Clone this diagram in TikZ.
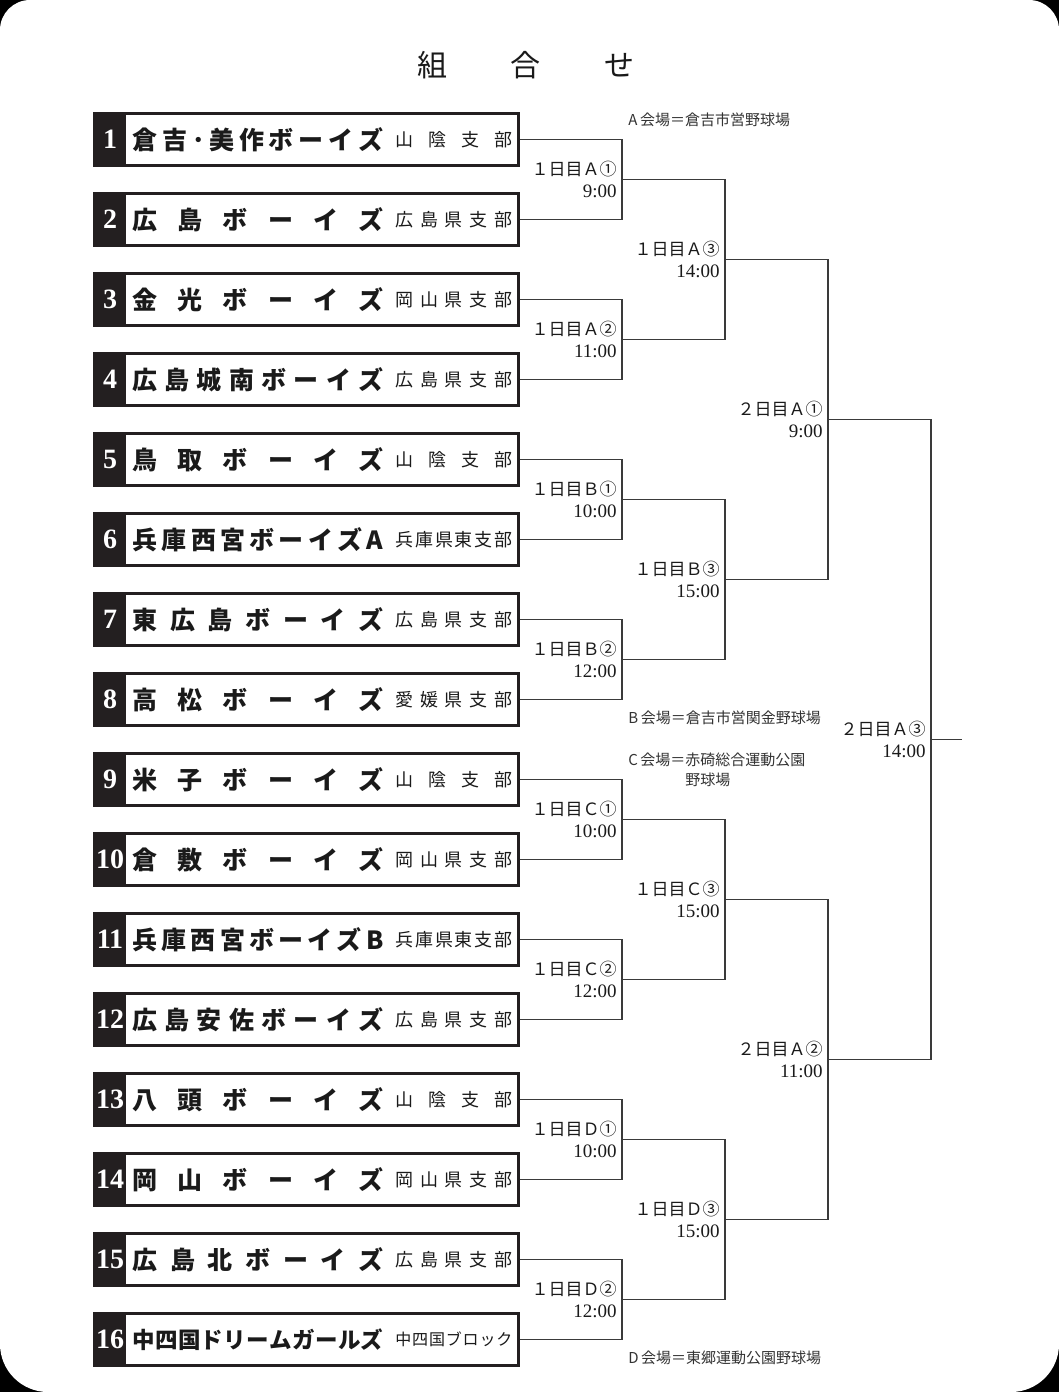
\documentclass[tikz,border=0pt]{standalone}
\usepackage{fontspec}
\setmainfont{Liberation Serif}
\newfontfamily\cjk{Noto Sans CJK JP}
\definecolor{boxblack}{HTML}{231F20}
\definecolor{txt}{HTML}{1A1A1A}
\definecolor{linegray}{HTML}{3A3A3A}
\definecolor{venuegray}{HTML}{333333}
\def\spreadloop#1#2{#1\ifx\relax#2\else\hfill\expandafter\spreadloop\expandafter#2\fi}
\newcommand\spreadtext[2]{\makebox[#1][s]{\expandafter\spreadloop#2\relax}}
\newcommand\lbtwo[2]{{\cjk\fontsize{8.5pt}{11pt}\selectfont #1}\\#2}
\tikzset{
  teambox/.style={fill=boxblack, minimum width=213.5pt, minimum height=27.5pt, inner sep=0pt, outer sep=0pt},
  numtext/.style={text=white, font=\fontsize{14pt}{14pt}\selectfont\bfseries, inner sep=0pt},
  nametext/.style={anchor=west, inner sep=0pt, text=txt},
  brtext/.style={anchor=west, inner sep=0pt, text=txt},
  link/.style={draw=linegray, line width=0.65pt},
  lbl/.style={anchor=east, align=right, inner sep=0pt, text=txt, xshift=-2.5pt, font=\fontsize{9.5pt}{11pt}\selectfont},
  venue/.style={anchor=west, align=left, inner sep=0pt, text=venuegray, font=\cjk\fontsize{7.5pt}{10pt}\selectfont},
  titletext/.style={inner sep=0pt, text=txt, font=\cjk\fontsize{15pt}{15pt}\selectfont},
}
\begin{document}
\begin{tikzpicture}[x=0.5pt,y=-0.5pt]
\useasboundingbox (0,0) rectangle (1059,1392);
\fill[black] (0,0) rectangle (1059,1392);
\fill[white, rounded corners=15pt] (0,0) rectangle (1059,800);
\fill[white, rounded corners=24pt] (0,600) rectangle (1059,1392);

\node[titletext] (title) at (526,65) {\spreadtext{109pt}{組合せ}};

\foreach \i/\nm/\br in {1/倉吉･美作ボーイズ/山陰支部, 2/広島ボーイズ/広島県支部, 3/金光ボーイズ/岡山県支部, 4/広島城南ボーイズ/広島県支部, 5/鳥取ボーイズ/山陰支部, 6/兵庫西宮ボーイズA/兵庫県東支部, 7/東広島ボーイズ/広島県支部, 8/高松ボーイズ/愛媛県支部, 9/米子ボーイズ/山陰支部, 10/倉敷ボーイズ/岡山県支部, 11/兵庫西宮ボーイズB/兵庫県東支部, 12/広島安佐ボーイズ/広島県支部, 13/八頭ボーイズ/山陰支部, 14/岡山ボーイズ/岡山県支部, 15/広島北ボーイズ/広島県支部, 16/中四国ドリームガールズ/中四国ブロック}{
  \pgfmathsetmacro\yy{139.5+80*(\i-1)}
  \node[teambox] (t\i) at (306.5,\yy) {};
  \fill[white] ([xshift=16.5pt,yshift=-1.5pt]t\i.north west) rectangle ([xshift=-1.75pt,yshift=1.75pt]t\i.south east);
  \node[numtext] (n\i) at (110,\yy) {\i};
  \node[nametext] (nm\i) at (132,\yy) {\cjk\bfseries\ifnum\i=16 \fontsize{11.25pt}{12pt}\selectfont\else\fontsize{12.5pt}{14pt}\selectfont\fi\spreadtext{125.5pt}{\nm}};
  \node[brtext] (b\i) at (395,\yy) {\cjk\ifnum\i=16 \fontsize{8pt}{9pt}\selectfont\else\fontsize{9pt}{10pt}\selectfont\fi\spreadtext{58.5pt}{\br}};
}

% round 1
\foreach \k in {1,...,8}{
  \pgfmathtruncatemacro\a{2*\k-1}
  \pgfmathtruncatemacro\b{2*\k}
  \pgfmathsetmacro\yy{179.5+160*(\k-1)}
  \coordinate (r1\k) at (622,\yy);
  \draw[link] (t\a.east) -| (r1\k) |- (t\b.east);
}
% round 2
\foreach \k in {1,...,4}{
  \pgfmathtruncatemacro\a{2*\k-1}
  \pgfmathtruncatemacro\b{2*\k}
  \pgfmathsetmacro\yy{259.5+320*(\k-1)}
  \coordinate (r2\k) at (725,\yy);
  \draw[link] (r1\a) -| (r2\k) |- (r1\b);
}
% round 3
\foreach \k in {1,2}{
  \pgfmathtruncatemacro\a{2*\k-1}
  \pgfmathtruncatemacro\b{2*\k}
  \pgfmathsetmacro\yy{419.5+640*(\k-1)}
  \coordinate (r3\k) at (828,\yy);
  \draw[link] (r2\a) -| (r3\k) |- (r2\b);
}
% final
\coordinate (r4) at (931,739.5);
\coordinate (champ) at (962,739.5);
\draw[link] (r31) -| (r4) |- (r32);
\draw[link] (r4) -- (champ);

% match labels
\node[lbl] (L11) at (r11) {\lbtwo{１日目Ａ①}{9:00}};
\node[lbl] (L12) at (r12) {\lbtwo{１日目Ａ②}{11:00}};
\node[lbl] (L13) at (r13) {\lbtwo{１日目Ｂ①}{10:00}};
\node[lbl] (L14) at (r14) {\lbtwo{１日目Ｂ②}{12:00}};
\node[lbl] (L15) at (r15) {\lbtwo{１日目Ｃ①}{10:00}};
\node[lbl] (L16) at (r16) {\lbtwo{１日目Ｃ②}{12:00}};
\node[lbl] (L17) at (r17) {\lbtwo{１日目Ｄ①}{10:00}};
\node[lbl] (L18) at (r18) {\lbtwo{１日目Ｄ②}{12:00}};
\node[lbl] (L21) at (r21) {\lbtwo{１日目Ａ③}{14:00}};
\node[lbl] (L22) at (r22) {\lbtwo{１日目Ｂ③}{15:00}};
\node[lbl] (L23) at (r23) {\lbtwo{１日目Ｃ③}{15:00}};
\node[lbl] (L24) at (r24) {\lbtwo{１日目Ｄ③}{15:00}};
\node[lbl] (L31) at (r31) {\lbtwo{２日目Ａ①}{9:00}};
\node[lbl] (L32) at (r32) {\lbtwo{２日目Ａ②}{11:00}};
\node[lbl] (L4) at (r4) {\lbtwo{２日目Ａ③}{14:00}};

% venues
\node[venue] (vA) at (628,120) {A\,会場＝倉吉市営野球場};
\node[venue] (vB) at (628,718) {B\,会場＝倉吉市営関金野球場};
\node[venue, anchor=north west] (vC) at (628,752) {C\,会場＝赤碕総合運動公園\\\hspace*{28.5pt}野球場};
\node[venue] (vD) at (628,1358) {D\,会場＝東郷運動公園野球場};
\end{tikzpicture}
\end{document}
